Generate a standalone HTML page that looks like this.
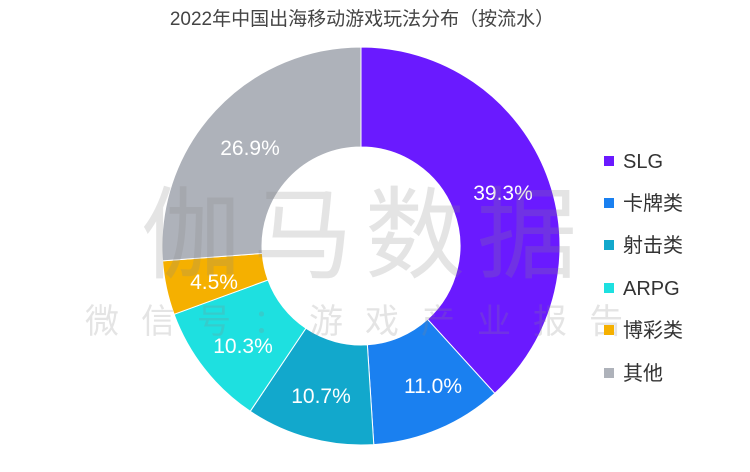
<!DOCTYPE html>
<html><head><meta charset="utf-8"><style>
body{margin:0;background:#fff;width:750px;height:472px;overflow:hidden;font-family:"Liberation Sans","Noto Sans CJK SC",sans-serif}
</style></head><body>
<svg id="s" width="750" height="472" xmlns="http://www.w3.org/2000/svg" style="position:absolute;left:0;top:0">
<text x="362" y="25" text-anchor="middle" font-size="19" fill="#444" font-family="Liberation Sans, Noto Sans CJK SC, sans-serif">2022年中国出海移动游戏玩法分布（按流水）</text>
<g id="pie"></g>
<g font-size="21" fill="#fff" text-anchor="middle" font-family="Liberation Sans, Noto Sans CJK SC, sans-serif">
<text x="503" y="200">39.3%</text>
<text x="433" y="393">11.0%</text>
<text x="321" y="403">10.7%</text>
<text x="243" y="353">10.3%</text>
<text x="214" y="289">4.5%</text>
<text x="250" y="155">26.9%</text>
</g>
<g font-family="Liberation Sans, Noto Sans CJK SC, sans-serif" fill="#888" opacity="0.22">
<text x="365" y="270" text-anchor="middle" font-size="100" letter-spacing="12">伽马数据</text>
<text x="365" y="333" text-anchor="middle" font-size="34" letter-spacing="22">微信号：游戏产业报告</text>
</g>
<g font-size="20" fill="#333" font-family="Liberation Sans, Noto Sans CJK SC, sans-serif">
<rect x="604" y="156" width="10" height="10" fill="#6a1aff"/><text x="623" y="168">SLG</text>
<rect x="604" y="198" width="10" height="10" fill="#1a80f0"/><text x="623" y="210">卡牌类</text>
<rect x="604" y="240" width="10" height="10" fill="#12a8cc"/><text x="623" y="252">射击类</text>
<rect x="604" y="283" width="10" height="10" fill="#1ee0e0"/><text x="623" y="295">ARPG</text>
<rect x="604" y="325" width="10" height="10" fill="#f5b000"/><text x="623" y="337">博彩类</text>
<rect x="604" y="368" width="10" height="10" fill="#aeb2ba"/><text x="623" y="380">其他</text>
</g>
</svg>
<script>
var v=[39.3,11.0,10.7,10.3,4.5,26.9],c=["#6a1aff","#1a80f0","#12a8cc","#1ee0e0","#f5b000","#aeb2ba"];
var cx=361,cy=246,R=199,r=99,t=0,T=102.7,g=document.getElementById("pie"),h="";
function p(a,rr){return [cx+rr*Math.sin(a),cy-rr*Math.cos(a)];}
for(var i=0;i<6;i++){var a0=t/T*2*Math.PI;t+=v[i];var a1=t/T*2*Math.PI,l=(a1-a0)>Math.PI?1:0;
var A=p(a0,R),B=p(a1,R),C=p(a1,r),D=p(a0,r);
h+='<path fill="'+c[i]+'" stroke="#fff" stroke-width="1" d="M'+A+' A'+R+','+R+' 0 '+l+' 1 '+B+' L'+C+' A'+r+','+r+' 0 '+l+' 0 '+D+'Z"/>';}
g.innerHTML=h;
</script>
</body></html>
